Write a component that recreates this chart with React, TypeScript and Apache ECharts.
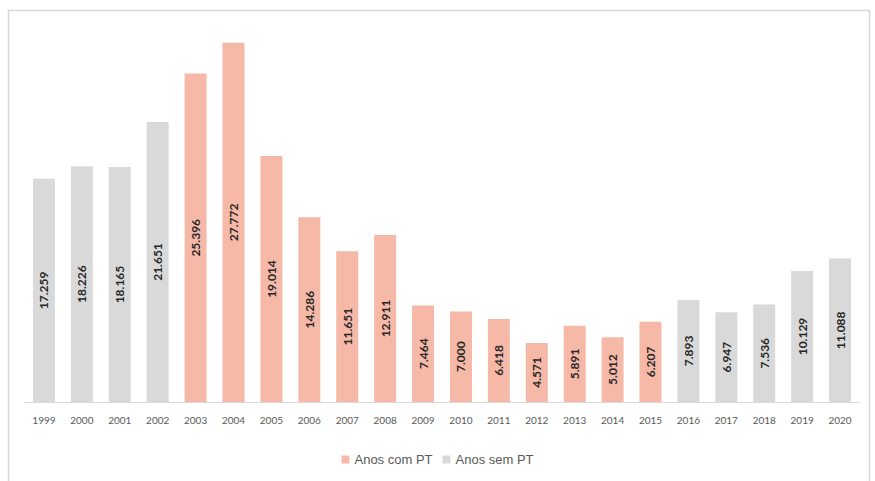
import React, { useEffect, useRef } from "react";
import * as echarts from "echarts";

const years = ["1999","2000","2001","2002","2003","2004","2005","2006","2007","2008","2009","2010","2011","2012","2013","2014","2015","2016","2017","2018","2019","2020"];
const comPT = [null,null,null,null,25.396,27.772,19.014,14.286,11.651,12.911,7.464,7.000,6.418,4.571,5.891,5.012,6.207,null,null,null,null,null];
const semPT = [17.259,18.226,18.165,21.651,null,null,null,null,null,null,null,null,null,null,null,null,null,7.893,6.947,7.536,10.129,11.088];
const seriesNames = ["Anos com PT", "Anos sem PT"];

export default function App() {
  const ref = useRef<HTMLDivElement>(null);
  useEffect(() => {
    const chart = echarts.init(ref.current!, null, { renderer: "svg" });
    const label = {
      show: true,
      position: "inside",
      rotate: 90,
      color: "#262626",
      fontFamily: "Lato",
      fontWeight: "bold",
      fontSize: 12,
      formatter: (p: any) => (p.value == null ? "" : Number(p.value).toFixed(3)),
    };
    chart.setOption({
      animation: false,
      backgroundColor: "#ffffff",
      graphic: [
        {
          type: "rect",
          shape: { x: 8.5, y: 10.5, width: 861, height: 480 },
          style: { fill: "none", stroke: "#D6D6D6", lineWidth: 1.5 },
          silent: true,
        },
      ],
      grid: { left: 25, right: 16, top: 14, bottom: 79 },
      legend: {
        bottom: 10,
        left: "center",
        itemWidth: 8,
        itemHeight: 8,
        itemGap: 10,
        icon: "rect",
        textStyle: { color: "#595959", fontSize: 13, fontFamily: "Liberation Sans" },
        data: seriesNames,
      },
      xAxis: {
        type: "category",
        data: years,
        axisLine: { lineStyle: { color: "#D9D9D9", width: 1 } },
        axisTick: { show: false },
        axisLabel: { color: "#595959", fontSize: 10, fontFamily: "Lato", margin: 13, interval: 0 },
      },
      yAxis: {
        type: "value",
        min: 0,
        max: 30,
        show: false,
        splitLine: { show: false },
      },
      series: [
        {
          name: seriesNames[0],
          type: "bar",
          stack: "t",
          data: comPT,
          barWidth: "58%",
          itemStyle: { color: "#F6B8A7" },
          label,
        },
        {
          name: seriesNames[1],
          type: "bar",
          stack: "t",
          data: semPT,
          barWidth: "58%",
          itemStyle: { color: "#D9D9D9" },
          label,
        },
      ],
    });
    return () => chart.dispose();
  }, []);
  return (
    <div style={{ position: "absolute", left: 0, top: 0, width: 875, height: 481 }}>
      <div ref={ref} style={{ width: 875, height: 481 }} />
    </div>
  );
}
